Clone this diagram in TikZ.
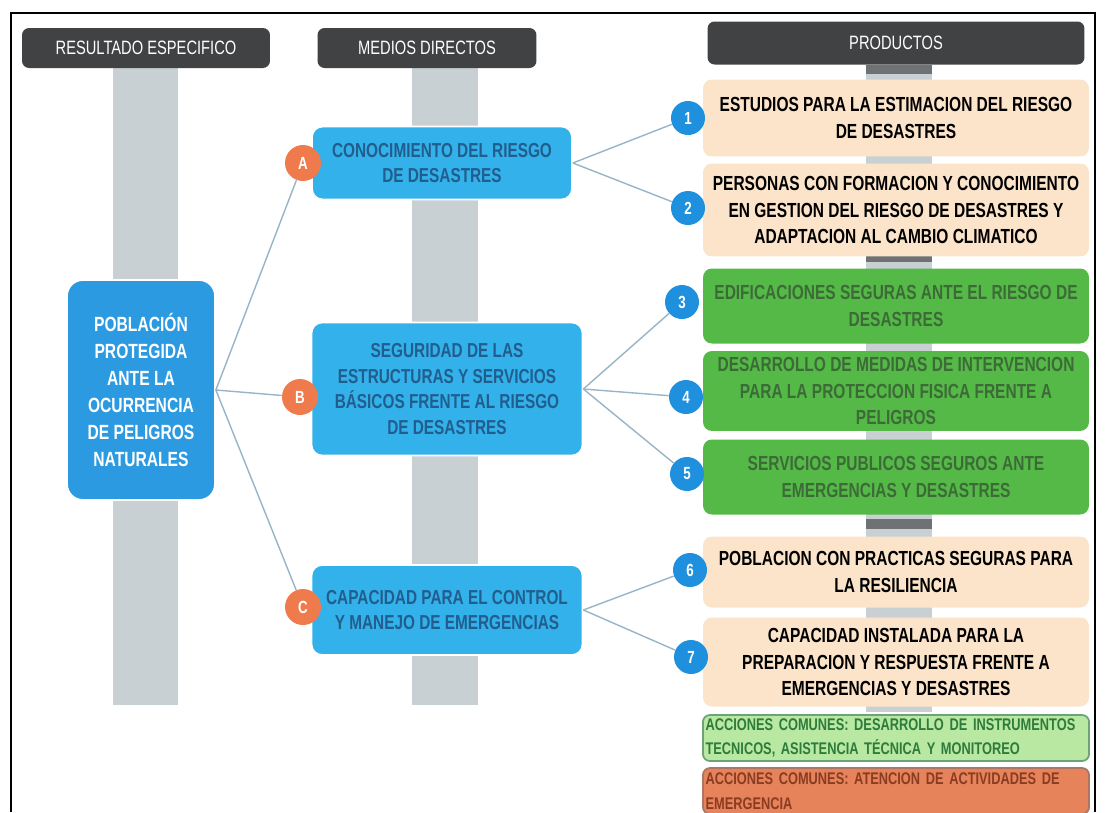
\documentclass[tikz,border=0pt]{standalone}
\usepackage{fontspec}
\setmainfont{Liberation Sans}
\newfontfamily\narrowfont{Liberation Sans}[FakeStretch=0.76]
\definecolor{headgray}{HTML}{404243}
\definecolor{bargray}{HTML}{C9D0D4}
\definecolor{tabgray}{HTML}{6E7275}
\definecolor{resblue}{HTML}{2C9AE0}
\definecolor{medblue}{HTML}{33B1EA}
\definecolor{medink}{HTML}{215E8E}
\definecolor{letorange}{HTML}{EF7B4D}
\definecolor{numblue}{HTML}{1F90DD}
\definecolor{peach}{HTML}{FBE4C9}
\definecolor{prodgreen}{HTML}{55B947}
\definecolor{greenink}{HTML}{3C6B38}
\definecolor{accgreen}{HTML}{B8E8A2}
\definecolor{accgreenink}{HTML}{2E7B3C}
\definecolor{accorange}{HTML}{E6835A}
\definecolor{accorangeink}{HTML}{8A3C22}
\definecolor{linkgray}{HTML}{98B4C6}
\begin{document}
\begin{tikzpicture}[x=0.02cm,y=-0.02cm]
    \tikzstyle{head} = [fill=headgray,rounded corners=4pt,text=white,
                        font=\narrowfont\fontsize{11}{13}\selectfont,minimum height=0.8cm]
    \tikzstyle{bar} = [fill=bargray]
    \tikzstyle{res} = [fill=resblue,draw=white,line width=1pt,rounded corners=9pt,
                       text=white,align=center,minimum width=2.96cm,minimum height=4.4cm,
                       font=\narrowfont\bfseries\fontsize{11.7}{15.3}\selectfont]
    \tikzstyle{medio} = [fill=medblue,draw=white,line width=1pt,rounded corners=6pt,
                         text=medink,align=center,
                         font=\narrowfont\bfseries\fontsize{11.5}{14.5}\selectfont]
    \tikzstyle{prod} = [rounded corners=5pt,minimum width=7.72cm,align=center,
                        font=\narrowfont\bfseries\fontsize{11.6}{15.3}\selectfont]
    \tikzstyle{peachfill} = [fill=peach,text=black]
    \tikzstyle{greenfill} = [fill=prodgreen,text=greenink]
    \tikzstyle{acc} = [rounded corners=4pt,line width=1pt,inner sep=1.5pt,
                       minimum height=0.92cm,align=left,text width=7.62cm,
                       font=\narrowfont\bfseries\fontsize{9.6}{14}\selectfont]
    \tikzstyle{letra} = [circle,fill=letorange,text=white,minimum size=0.72cm,inner sep=0pt,
                         font=\narrowfont\bfseries\fontsize{10}{12}\selectfont]
    \tikzstyle{num} = [circle,fill=numblue,text=white,minimum size=0.68cm,inner sep=0pt,
                       font=\narrowfont\bfseries\fontsize{10}{12}\selectfont]
    \tikzstyle{link} = [draw=linkgray,line width=.8pt]
    \useasboundingbox (0,0) rectangle (1105,812);
    % frame
    \draw[line width=.8pt] (11,812)--(11,13)--(1095,13)--(1095,812);
    % column bars
    \fill[bar] (113,68) rectangle (178,705);
    \fill[bar] (412,68) rectangle (478,705);
    \fill[bar] (866,65) rectangle (932,712);
    \fill[tabgray] (866,65) rectangle (932,74);
    \fill[tabgray] (866,253) rectangle (932,262);
    \fill[tabgray] (866,519) rectangle (932,529);
    % headers
    \node[head,minimum width=4.96cm] (h1) at (146,48) {RESULTADO ESPECIFICO};
    \node[head,minimum width=4.38cm] (h2) at (427,48) {MEDIOS DIRECTOS};
    \node[head,minimum width=7.54cm,minimum height=0.86cm] (h3) at (896,43) {PRODUCTOS};
    % resultado
    \node[res] (res) at (141,390) {POBLACIÓN\\PROTEGIDA\\ANTE LA\\OCURRENCIA\\DE PELIGROS\\NATURALES};
    % medios directos
    \node[medio,minimum width=5.2cm,minimum height=1.46cm] (ma) at (442,163)
        {CONOCIMIENTO DEL RIESGO\\DE DESASTRES};
    \node[medio,minimum width=5.42cm,minimum height=2.66cm] (mb) at (447,389)
        {SEGURIDAD DE LAS\\ESTRUCTURAS Y SERVICIOS\\BÁSICOS FRENTE AL RIESGO\\DE DESASTRES};
    \node[medio,minimum width=5.42cm,minimum height=1.8cm] (mc) at (447,610)
        {CAPACIDAD PARA EL CONTROL\\Y MANEJO DE EMERGENCIAS};
    % productos
    \node[prod,peachfill,minimum height=1.54cm] (p1) at (896,118)
        {ESTUDIOS PARA LA ESTIMACION DEL RIESGO\\DE DESASTRES};
    \node[prod,peachfill,minimum height=1.86cm] (p2) at (896,210)
        {PERSONAS CON FORMACION Y CONOCIMIENTO\\EN GESTION DEL RIESGO DE DESASTRES Y\\ADAPTACION AL CAMBIO CLIMATICO};
    \node[prod,greenfill,minimum height=1.5cm] (p3) at (896,306)
        {EDIFICACIONES SEGURAS ANTE EL RIESGO DE\\DESASTRES};
    \node[prod,greenfill,minimum height=1.56cm] (p4) at (896,391)
        {DESARROLLO DE MEDIDAS DE INTERVENCION\\PARA LA PROTECCION FISICA FRENTE A\\PELIGROS};
    \node[prod,greenfill,minimum height=1.5cm] (p5) at (896,477)
        {SERVICIOS PUBLICOS SEGUROS ANTE\\EMERGENCIAS Y DESASTRES};
    \node[prod,peachfill,minimum height=1.42cm] (p6) at (896,572)
        {POBLACION CON PRACTICAS SEGURAS PARA\\LA RESILIENCIA};
    \node[prod,peachfill,minimum height=1.78cm] (p7) at (896,662)
        {CAPACIDAD INSTALADA PARA LA\\PREPARACION Y RESPUESTA FRENTE A\\EMERGENCIAS Y DESASTRES};
    \node[acc,fill=accgreen,draw=accgreenink!70,text=accgreenink] (c1) at (896,738)
        {ACCIONES COMUNES: DESARROLLO DE INSTRUMENTOS\\TECNICOS, ASISTENCIA TÉCNICA Y MONITOREO};
    \node[acc,fill=accorange,draw=accorangeink!70,text=accorangeink] (c2) at (896,791)
        {ACCIONES COMUNES: ATENCION DE ACTIVIDADES DE\\EMERGENCIA};
    % badges
    \node[letra] (ba) at (303,163) {A};
    \node[letra] (bb) at (300,397) {B};
    \node[letra] (bc) at (303,607) {C};
    \node[num] (n1) at (688,118) {1};
    \node[num] (n2) at (688,208) {2};
    \node[num] (n3) at (682,302) {3};
    \node[num] (n4) at (686,397) {4};
    \node[num] (n5) at (687,474) {5};
    \node[num] (n6) at (690,570) {6};
    \node[num] (n7) at (691,657) {7};
    % connectors
    \draw[link] (res.east) -- (ba);
    \draw[link] (res.east) -- (bb);
    \draw[link] (res.east) -- (bc);
    \draw[link] (ma.east) -- (n1);
    \draw[link] (ma.east) -- (n2);
    \draw[link] (mb.east) -- (n3);
    \draw[link] (mb.east) -- (n4);
    \draw[link] (mb.east) -- (n5);
    \draw[link] (mc.east) -- (n6);
    \draw[link] (mc.east) -- (n7);
\end{tikzpicture}
\end{document}
